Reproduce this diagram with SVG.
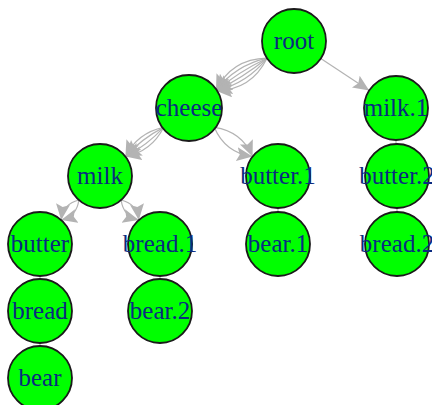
<svg xmlns="http://www.w3.org/2000/svg" width="432" height="405" viewBox="0 0 432 405">
<style>
.n circle{fill:#00FF00;stroke:#1a1a1a;stroke-width:1.8}
.n text{font-family:"Liberation Serif","Times New Roman",serif;font-size:25px;fill:#0a2a80;text-anchor:middle}
.e path,.e line{fill:none;stroke:#b3b3b3;stroke-width:1.2}
.a{marker-end:url(#arr)}
</style>
<defs>
<marker id="arr" markerUnits="userSpaceOnUse" markerWidth="18" markerHeight="16" refX="16" refY="7" orient="auto">
<path d="M0,0 L16,7 L0,14 L3,7 z" fill="#b3b3b3"/>
</marker>
</defs>
<rect width="432" height="405" fill="#fff"/>
<g id="connectors" class="e">
<path class="a" d="M267,58.2 Q231,59 216,90.8"/>
<path class="a" d="M267,58.2 Q235,65.5 216,90.8"/>
<path class="a" d="M267,58.2 Q239,71.5 216,90.8"/>
<path class="a" d="M267,58.2 Q243,77.5 216,90.8"/>
<path class="a" d="M267,58.2 Q247.3,83.5 216,90.8"/>
<path class="a" d="M267,58.2 Q251.5,90 216,90.8"/>
<line class="a" x1="320.8" y1="58.6" x2="369.2" y2="90.4"/>
<path class="a" d="M163.6,127.4 Q137.5,132.8 125.4,156.6"/>
<path class="a" d="M163.6,127.4 Q142,138.5 125.4,156.6"/>
<path class="a" d="M163.6,127.4 Q147,145.5 125.4,156.6"/>
<path class="a" d="M163.6,127.4 Q151.5,151.2 125.4,156.6"/>
<path class="a" d="M214.4,127.4 Q242,131.5 252.6,156.6"/>
<path class="a" d="M214.4,127.4 Q225,152.5 252.6,156.6"/>
<path class="a" d="M78.8,200 Q63,204 61.2,220"/>
<path class="a" d="M78.8,200 Q77,216 61.2,220"/>
<path class="a" d="M121.2,200 Q137,204 138.8,220"/>
<path class="a" d="M121.2,200 Q123,216 138.8,220"/>
<line x1="40" y1="276" x2="40" y2="279"/>
<line x1="40" y1="343" x2="40" y2="346"/>
<line x1="160" y1="276" x2="160" y2="279"/>
<line x1="278" y1="208" x2="278" y2="212"/>
<line x1="396" y1="140" x2="396" y2="145"/>
<line x1="397" y1="208" x2="397" y2="212"/>
</g>
<g id="root" class="n"><circle cx="294" cy="41" r="32"/><text x="294" y="49">root</text></g>
<g id="cheese" class="n"><circle cx="189" cy="108" r="33"/><text x="189" y="116">cheese</text></g>
<g id="milk.1" class="n"><circle cx="396" cy="108" r="32"/><text x="396" y="116">milk.1</text></g>
<g id="milk" class="n"><circle cx="100" cy="176" r="32"/><text x="100" y="184">milk</text></g>
<g id="butter.1" class="n"><circle cx="278" cy="176" r="32"/><text x="278" y="184">butter.1</text></g>
<g id="butter.2" class="n"><circle cx="397" cy="176" r="32"/><text x="397" y="184">butter.2</text></g>
<g id="butter" class="n"><circle cx="40" cy="244" r="32"/><text x="40" y="252">butter</text></g>
<g id="bread.1" class="n"><circle cx="160" cy="244" r="32"/><text x="160" y="252">bread.1</text></g>
<g id="bear.1" class="n"><circle cx="278" cy="244" r="32"/><text x="278" y="252">bear.1</text></g>
<g id="bread.2" class="n"><circle cx="397" cy="244" r="32"/><text x="397" y="252">bread.2</text></g>
<g id="bread" class="n"><circle cx="40" cy="311" r="32"/><text x="40" y="319">bread</text></g>
<g id="bear.2" class="n"><circle cx="160" cy="311" r="32"/><text x="160" y="319">bear.2</text></g>
<g id="bear" class="n"><circle cx="40" cy="378" r="32"/><text x="40" y="386">bear</text></g>
</svg>
